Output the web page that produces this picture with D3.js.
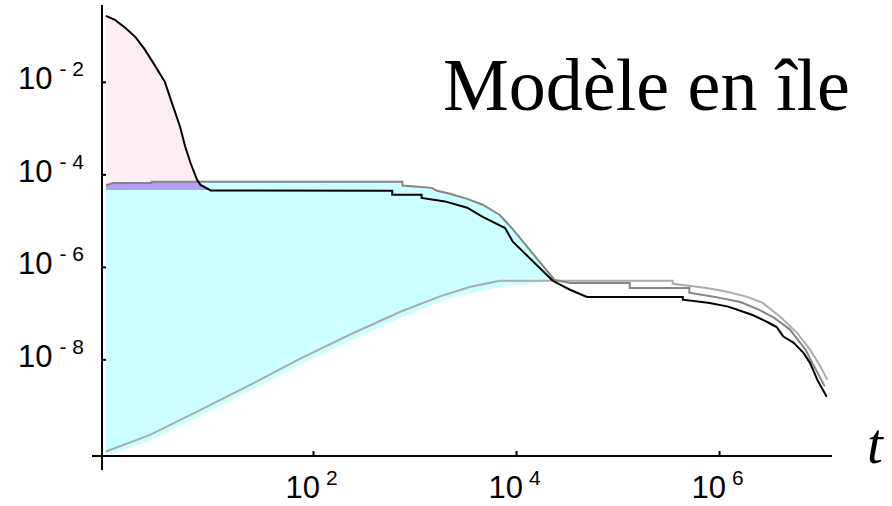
<!DOCTYPE html>
<html>
<head>
<meta charset="utf-8">
<script src="https://cdn.jsdelivr.net/npm/d3@7"></script>
<style>
  body { margin: 0; background: #fff; }
  text { font-family: "Liberation Sans", Arial, sans-serif; fill: #000; }
</style>
</head>
<body>
<div id="viz_container"></div>
<script>
// [t, value] pairs
const blackCurve = [
  [0.91, 0.267], [1.12, 0.219], [1.41, 0.148], [1.78, 0.093], [2.19, 0.051],
  [2.75, 0.023], [3.47, 0.010], [4.07, 3.5e-3], [4.9, 1.07e-3], [5.5, 4.0e-4],
  [6.2, 1.78e-4], [7.2, 7.6e-5], [7.8, 5.9e-5], [9.8, 4.5e-5],
  [603, 4.4e-5], [603, 3.6e-5], [1175, 3.6e-5], [1175, 3.1e-5],
  [2000, 2.6e-5], [3300, 1.9e-5], [4700, 1.2e-5], [7800, 6.9e-6], [9300, 3.5e-6],
  [2.3e4, 5.0e-7], [3.4e4, 3.2e-7], [5.0e4, 2.24e-7],
  [4.4e5, 2.24e-7], [4.4e5, 1.95e-7], [8.1e5, 1.66e-7], [1.23e6, 1.38e-7],
  [1.62e6, 1.12e-7], [2.14e6, 9.1e-8], [2.95e6, 6.5e-8], [3.7e6, 5.0e-8],
  [4.3e6, 3.1e-8], [5.4e6, 2.3e-8], [6.8e6, 1.38e-8], [7.9e6, 8.3e-9],
  [9.3e6, 3.6e-9], [1.15e7, 1.55e-9]
];

const darkGrayCurve = [
  [0.91, 5.75e-5], [1.07, 6.5e-5], [2.57, 6.5e-5], [2.57, 6.9e-5],
  [760, 6.9e-5], [760, 5.75e-5], [1480, 5.1e-5], [1660, 4.4e-5], [2240, 3.8e-5],
  [3300, 2.95e-5], [4700, 2.2e-5], [6900, 1.32e-5], [9100, 6.9e-6],
  [1.17e4, 3.5e-6], [2.4e4, 5.2e-7], [3.4e4, 4.5e-7],
  [1.32e5, 4.5e-7], [1.32e5, 3.5e-7], [5.1e5, 3.5e-7], [5.1e5, 2.75e-7],
  [9.1e5, 2.24e-7], [1.62e6, 1.74e-7], [2.5e6, 1.17e-7], [3.5e6, 7.9e-8],
  [5.0e6, 4.4e-8], [7.1e6, 1.62e-8], [8.5e6, 7.6e-9], [1.1e7, 2.6e-9]
];

const lightGrayCurve = [
  [0.91, 1.02e-10], [2.45, 2.3e-10], [7.8, 8.1e-10], [24, 2.8e-9], [74, 1.02e-8],
  [229, 3.4e-8], [725, 1.07e-7], [1780, 2.3e-7], [3550, 3.7e-7], [6900, 5.0e-7],
  [3.5e5, 5.0e-7], [3.5e5, 4.3e-7], [7.6e5, 3.5e-7], [1.2e6, 2.9e-7],
  [1.9e6, 2.24e-7], [2.7e6, 1.66e-7], [4.0e6, 8.3e-8], [5.9e6, 3.7e-8],
  [7.9e6, 1.62e-8], [1.0e7, 6.9e-9], [1.17e7, 3.6e-9]
];

// lower edge of the cyan region
const cyanLowerEdge = [
  [0.91, 8.1e-11], [2.45, 1.74e-10], [7.8, 6.0e-10], [24, 2.1e-9], [74, 7.6e-9],
  [229, 2.5e-8], [725, 7.9e-8], [2200, 2.1e-7], [6900, 3.7e-7], [1.38e4, 4.3e-7],
  [2.4e4, 5.0e-7]
];
const cyanEnd = 2.4e4;     // t where the cyan region closes
const pinkEnd = 9.8;       // t where the pink region closes
const purpleFloor = 4.6e-5;

const xTickExps = [2, 4, 6];
const yTickExps = [-2, -4, -6, -8];
const title = "Modèle en île";
const xLabel = "t";

var W = 892, H = 506;

var x = d3.scaleLog().domain([Math.pow(10, -0.079), Math.pow(10, 7.113)]).range([102, 832]);
var y = d3.scaleLog().domain([Math.pow(10, -10.09), Math.pow(10, -0.36)]).range([456, 6]);

var svg = d3.select("#viz_container").append("svg")
    .attr("width", W)
    .attr("height", H);

var line = d3.line().x(d => x(d[0])).y(d => y(d[1]));

// Pink region: under black curve down to the purple floor
var pinkPts = blackCurve.filter(d => d[0] <= pinkEnd);
var pinkArea = d3.area().x(d => x(d[0])).y0(y(purpleFloor)).y1(d => y(d[1]));

svg.append("clipPath").attr("id", "pinkClip")
  .append("path").attr("d", pinkArea(pinkPts));

svg.append("path")
    .attr("d", pinkArea(pinkPts))
    .style("fill", "#fdeef5");

// Cyan region: dark gray curve on top, lower edge below the light gray curve
var cyanPts = darkGrayCurve.filter(d => d[0] <= cyanEnd)
    .concat(cyanLowerEdge.slice().reverse());
svg.append("path")
    .attr("d", line(cyanPts) + "Z")
    .style("fill", "#ccffff");

// Purple band between dark gray curve and the floor, clipped by the pink region
var purpleArea = d3.area().x(d => x(d[0])).y0(y(purpleFloor)).y1(d => y(d[1]));
svg.append("path")
    .attr("d", purpleArea(darkGrayCurve.filter(d => d[0] <= 760)))
    .attr("clip-path", "url(#pinkClip)")
    .style("fill", "#b0a0f8");

// Curves
[[lightGrayCurve, "#acacac"], [darkGrayCurve, "#858585"], [blackCurve, "#000"]].forEach(function(c) {
  svg.append("path")
      .attr("d", line(c[0]))
      .style("fill", "none")
      .style("stroke", c[1])
      .style("stroke-width", 2)
      .style("stroke-linejoin", "miter");
});

// Axes (ticks from d3, lines drawn so they cross at the origin)
var xAxis = d3.axisBottom(x).tickValues(xTickExps.map(e => Math.pow(10, e)))
    .tickSize(-5).tickSizeOuter(0).tickFormat("");
var yAxis = d3.axisLeft(y).tickValues(yTickExps.map(e => Math.pow(10, e)))
    .tickSize(-4).tickSizeOuter(0).tickFormat("");

var gx = svg.append("g").attr("transform", "translate(0," + y.range()[0] + ")").call(xAxis);
var gy = svg.append("g").attr("transform", "translate(" + x.range()[0] + ",0)").call(yAxis);
[gx, gy].forEach(g => {
  g.select(".domain").remove();
  g.selectAll(".tick line").style("stroke", "#000").style("stroke-width", 2);
});

svg.append("line")
    .attr("x1", x.range()[0] - 10).attr("x2", x.range()[1])
    .attr("y1", y.range()[0]).attr("y2", y.range()[0])
    .style("stroke", "#000").style("stroke-width", 2);
svg.append("line")
    .attr("x1", x.range()[0]).attr("x2", x.range()[0])
    .attr("y1", y.range()[1] - 1).attr("y2", y.range()[0] + 14)
    .style("stroke", "#000").style("stroke-width", 2);

function powerLabel(text, e, gap) {
  text.append("tspan").text("10");
  text.append("tspan")
      .attr("dx", gap).attr("dy", -13)
      .style("font-size", "21px")
      .text(e < 0 ? "- " + (-e) : String(e));
}

gx.selectAll(".tick").each(function(d, i) {
  var t = d3.select(this).append("text")
      .attr("x", -2).attr("y", 42)
      .style("text-anchor", "middle")
      .style("font-size", "31px");
  powerLabel(t, xTickExps[i], 6);
});

gy.selectAll(".tick").each(function(d, i) {
  var t = d3.select(this).append("text")
      .attr("x", -18).attr("y", 7)
      .style("text-anchor", "end")
      .style("font-size", "31px");
  powerLabel(t, yTickExps[i], 7);
});

// Axis label and title
svg.append("text")
    .attr("x", 867).attr("y", 463)
    .style("font-family", "'Liberation Serif', 'Times New Roman', serif")
    .style("font-style", "italic")
    .style("font-size", "57px")
    .text(xLabel);

svg.append("text")
    .attr("x", 443).attr("y", 110)
    .style("font-family", "'Liberation Serif', 'Times New Roman', serif")
    .style("font-size", "74px")
    .text(title);
</script>
</body>
</html>
